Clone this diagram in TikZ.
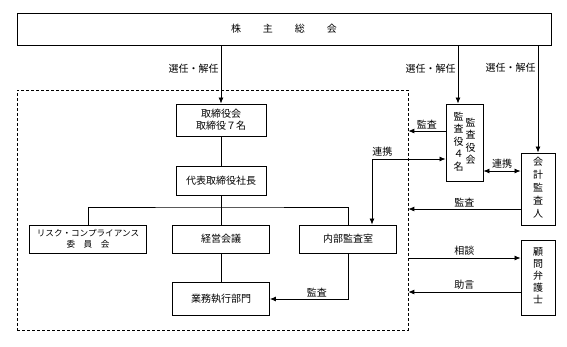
\documentclass[tikz,border=0pt]{standalone}
\usepackage{fontspec}
\setmainfont{Noto Sans CJK JP}
\usetikzlibrary{positioning}
\usetikzlibrary{calc}
\usetikzlibrary{arrows.meta}

\newcommand{\tate}[1]{\begin{tabular}[c]{@{}c@{}}#1\end{tabular}}

\tikzset{
    box/.style={draw, line width=0.9pt, inner sep=1pt, align=center, font=\fontsize{10}{12}\selectfont},
    lbl/.style={font=\fontsize{10}{12}\selectfont, inner sep=2pt},
    link/.style={line width=0.8pt},
    arr/.style={link, -{Latex[length=6pt,width=5pt]}},
    biarr/.style={link, {Latex[length=6pt,width=5pt]}-{Latex[length=6pt,width=5pt]}},
}

\begin{document}
\begin{tikzpicture}[x=1pt, y=-1pt]
    \useasboundingbox (0,0) rectangle (567,346);

    \node [box, minimum width=534pt, minimum height=32pt] (gm) at (284,29) {株\hspace{2.2em}主\hspace{2.2em}総\hspace{2.2em}会};

    % execution side
    \node [draw, dashed, line width=0.7pt, dash pattern=on 3pt off 2pt, minimum width=391pt, minimum height=240pt] (exec) at (212.5,210) {};

    \node [box, minimum width=90pt, minimum height=32pt] (board) at (221,120) {取締役会\\取締役７名};
    \node [box, minimum width=90pt, minimum height=29pt] (pres) at (221,181) {代表取締役社長};
    \node [box, minimum width=117pt, minimum height=28pt, font=\fontsize{8.6}{11}\selectfont] (risk) at (88,239) {リスク・コンプライアンス\\委\hspace{1em}員\hspace{1em}会};
    \node [box, minimum width=97pt, minimum height=28pt] (mgmt) at (221,239) {経営会議};
    \node [box, minimum width=97pt, minimum height=28pt] (audit) at (348,239) {内部監査室};
    \node [box, minimum width=97pt, minimum height=33pt] (ops) at (221,299) {業務執行部門};

    % outside
    \node [box, minimum width=37pt, minimum height=77pt, font=\fontsize{10}{12.5}\selectfont] (kansa) at (464.5,142.5) {\tate{監\\査\\役\\４\\名}\hspace{2pt}\tate{監\\査\\役\\会}};
    \node [box, minimum width=34pt, minimum height=72pt, font=\fontsize{10}{13}\selectfont] (kaikei) at (538,189) {\tate{会\\計\\監\\査\\人}};
    \node [box, minimum width=34pt, minimum height=75pt, font=\fontsize{10}{12}\selectfont] (komon) at (538,277.5) {\tate{顧\\問\\弁\\護\\士}};

    \coordinate (br) at (221,207);

    \draw [arr] (gm.south -| board.north) -- node [lbl, left, pos=0.4] {選任・解任} (board.north);
    \draw [arr] (gm.south -| 458,0) -- node [lbl, left, pos=0.4] {選任・解任} (kansa.north -| 458,0);
    \draw [arr] (gm.south -| kaikei.north) -- node [lbl, left, pos=0.21] {選任・解任} (kaikei.north);

    \draw [link] (board) -- (pres);
    \draw [link] (pres) -- (br);
    \draw [link] (risk.north) |- (br) -| (audit.north);
    \draw [link] (br) -- (mgmt);
    \draw [link] (mgmt) -- (ops);
    \draw [arr] (audit.south) |- node [lbl, above, pos=0.7] {監査} (ops.east);

    \draw [arr] (kansa.west |- 0,131) -- node [lbl, above] {監査} (exec.east |- 0,131);
    \draw [biarr] (kansa.west |- 0,159) -| node [lbl, above, pos=0.43] {連携} (372,0 |- audit.north);
    \draw [biarr] (kansa.east |- 0,171) -- node [lbl, above] {連携} (kaikei.west |- 0,171);
    \draw [arr] (kaikei.west |- 0,209) -- node [lbl, above] {監査} (exec.east |- 0,209);

    \draw [arr] (exec.east |- 0,258) -- node [lbl, above] {相談} (komon.west |- 0,258);
    \draw [arr] (komon.west |- 0,292) -- node [lbl, above] {助言} (exec.east |- 0,292);
\end{tikzpicture}
\end{document}
